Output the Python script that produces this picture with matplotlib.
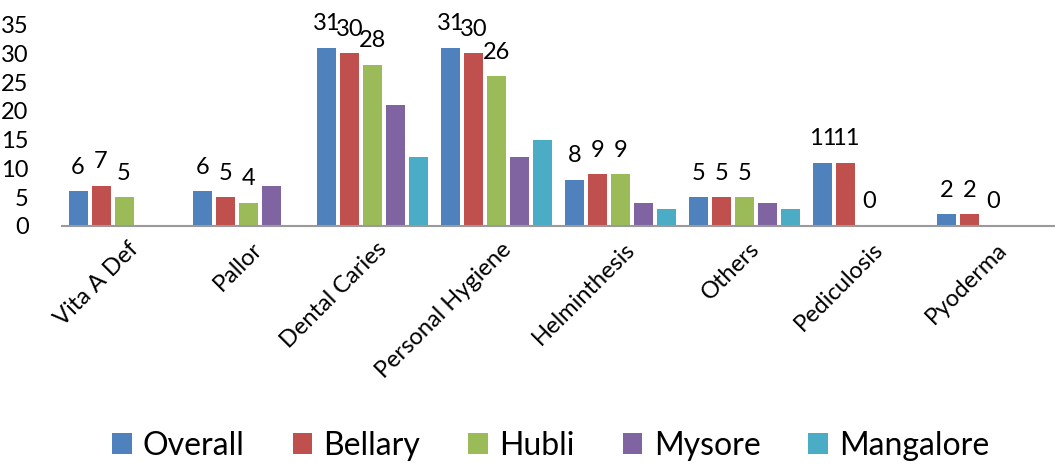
import numpy as np
import matplotlib.pyplot as plt

plt.rcParams['font.family'] = ['Lato', 'DejaVu Sans']

categories = ['Vita A Def', 'Pallor', 'Dental Caries', 'Personal Hygiene',
              'Helminthesis', 'Others', 'Pediculosis', 'Pyoderma']
series_names = ['Overall', 'Bellary', 'Hubli', 'Mysore', 'Mangalore']
overall = [6, 6, 31, 31, 8, 5, 11, 2]
bellary = [7, 5, 30, 30, 9, 5, 11, 2]
hubli = [5, 4, 28, 26, 9, 5, 0, 0]
mysore = [0, 7, 21, 12, 4, 4, 0, 0]
mangalore = [0, 0, 12, 15, 3, 3, 0, 0]
labelled = [True, True, True, False, False]

colors = ['#4f81bd', '#c0504d', '#9bbb59', '#8064a2', '#4bacc6']
series = [overall, bellary, hubli, mysore, mangalore]

fig = plt.figure(figsize=(10.55, 4.66), dpi=100)
ax = fig.add_axes([62/1055, (466-226)/466, (1055-62)/1055, 201.3/466])

x = np.arange(len(categories))
step = 0.1853
width = 0.153
for i, (vals, name, c) in enumerate(zip(series, series_names, colors)):
    pos = x + (i - 2) * step
    ax.bar(pos, vals, width=width, color=c, label=name, zorder=2)
    if labelled[i]:
        for p, v in zip(pos, vals):
            ax.annotate(str(v), (p, v), xytext=(0, 24), textcoords='offset pixels',
                        ha='center', va='center', fontsize=17)

ax.set_xlim(-0.5, len(categories) - 0.5)
ax.set_ylim(0, 35)
ax.set_yticks(range(0, 36, 5))
ax.tick_params(axis='y', length=0, labelsize=17, pad=24)
for lbl in ax.get_yticklabels():
    lbl.set_horizontalalignment('right')
ax.set_xticks(x + 0.03)
ax.set_xticklabels(categories, rotation=45, ha='right', va='top',
                   rotation_mode='anchor', fontsize=17)
ax.tick_params(axis='x', length=0, pad=9)

for s in ['top', 'right', 'left']:
    ax.spines[s].set_visible(False)
ax.spines['bottom'].set_color('#9a9a9a')
ax.spines['bottom'].set_linewidth(1.5)

fig.legend(loc='center', bbox_to_anchor=(0.522, 1 - 446/466), ncol=5, frameon=False,
           fontsize=23, handlelength=0.62, handleheight=0.62, handletextpad=0.35,
           columnspacing=1.5)

fig.savefig('out.png', dpi=100)
